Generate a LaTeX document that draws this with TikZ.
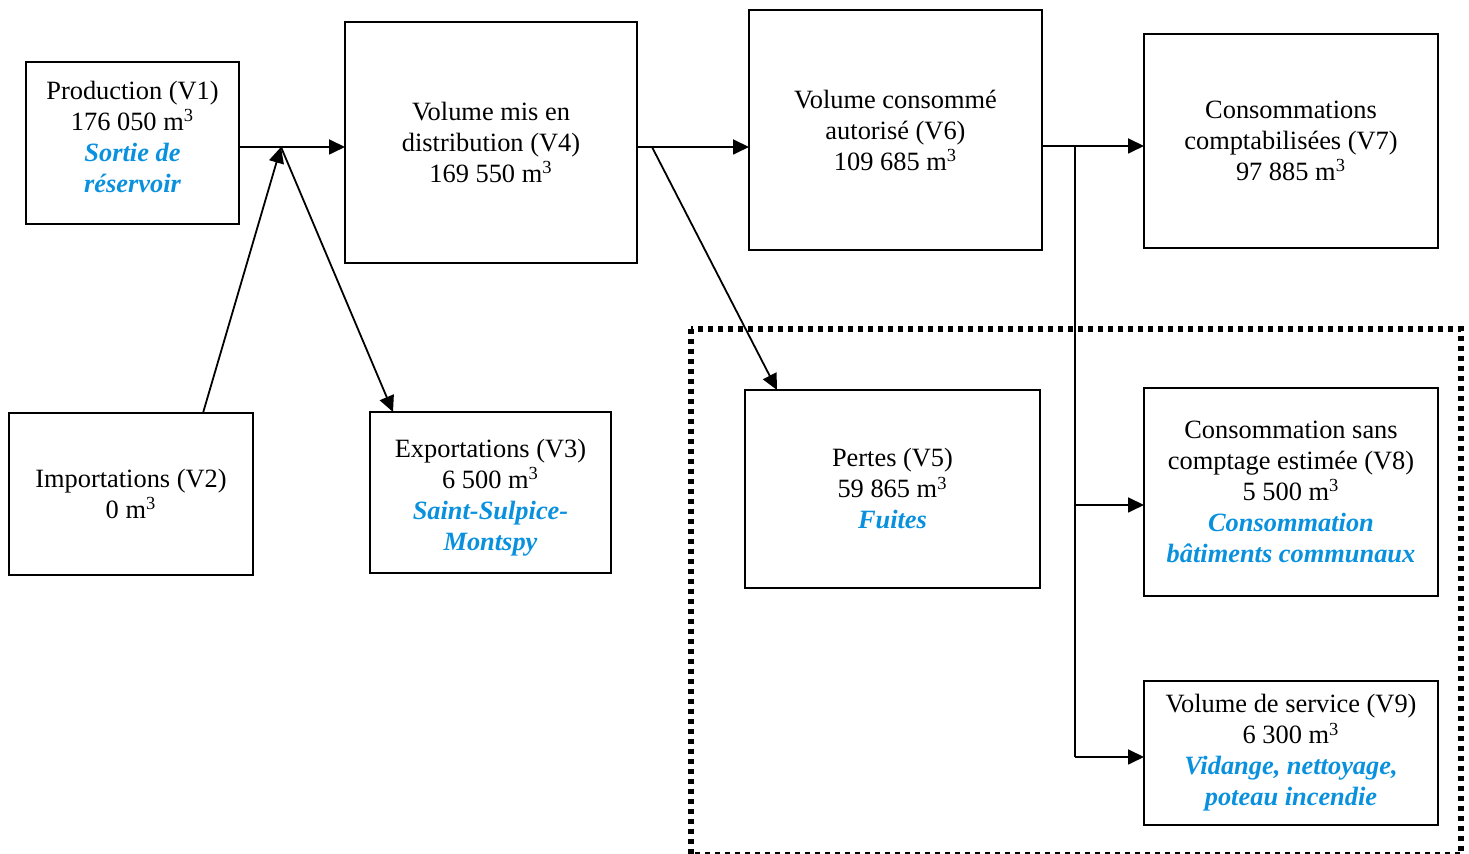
\documentclass[tikz,border=0pt]{standalone}
\usepackage{fontspec}
\setmainfont{Liberation Serif}
\usepackage{xcolor}
\usetikzlibrary{arrows.meta}
\definecolor{eaubleu}{RGB}{10,145,222}
\newcommand{\mcube}{m\textsuperscript{3}}
\newcommand{\remarque}[1]{{\color{eaubleu}\bfseries\itshape #1}}
\tikzset{box/.style={draw, line width=0.9pt, align=center, inner sep=0pt, outer sep=0pt,
   font=\fontsize{13.2}{15.5}\selectfont},
 flow/.style={draw, line width=0.9pt, -{Triangle[length=8pt,width=7.5pt]}},
 pipe/.style={draw, line width=0.9pt},
 lossframe/.style={draw, line width=2.6pt, dash pattern=on 2.6pt off 2.4pt},
 }

\begin{document}
\begin{tikzpicture}[x=0.5pt, y=-0.5pt]
    \useasboundingbox (0,0) rectangle (1469,854);
    % losses
    \draw[lossframe] (691,329) rectangle (1461,855);
    \node[box, minimum width=106.5pt, minimum height=81pt] (v1) at (132.5,143)
        {Production (V1)\\176 050 \mcube\\\remarque{Sortie de}\\\remarque{réservoir}\\[-9.5pt]\mbox{}};
    \node[box, minimum width=146pt, minimum height=120.5pt] (v4) at (491,142.5)
        {Volume mis en\\distribution (V4)\\169 550 \mcube};
    \node[box, minimum width=146.5pt, minimum height=120pt] (v6) at (895.5,130)
        {Volume consommé\\autorisé (V6)\\109 685 \mcube};
    \node[box, minimum width=147pt, minimum height=107pt] (v7) at (1291,141)
        {Consommations\\comptabilisées (V7)\\97 885 \mcube};
    \node[box, minimum width=122pt, minimum height=81pt] (v2) at (131,494)
        {Importations (V2)\\0 \mcube};
    \node[box, minimum width=120.5pt, minimum height=80.5pt] (v3) at (490.5,492.5)
        {\rule{0pt}{14pt}Exportations (V3)\\6 500 \mcube\\\remarque{Saint-Sulpice-}\\\remarque{Montspy}};
    \node[box, minimum width=147.5pt, minimum height=99pt] (v5) at (892.5,489)
        {Pertes (V5)\\59 865 \mcube\\\remarque{Fuites}};
    \node[box, minimum width=147pt, minimum height=104pt] (v8) at (1291,492)
        {Consommation sans\\comptage estimée (V8)\\5 500 \mcube\\\remarque{Consommation}\\\remarque{bâtiments communaux}};
    \node[box, minimum width=147pt, minimum height=72pt] (v9) at (1291,753)
        {Volume de service (V9)\\6 300 \mcube\\\remarque{Vidange, nettoyage,}\\\remarque{poteau incendie}};
    % junctions
    \coordinate (j1) at (281,147);
    \coordinate (j2) at (652,147);
    \coordinate (j3) at (1075,146);
    \coordinate (j4) at (1075,505);
    \coordinate (j5) at (1075,757);
    \draw[flow] (v1.east |- j1) -- (v4.west |- j1);
    \draw[flow] ([xshift=36pt]v2.north) -- (j1);
    \draw[flow] (j1) -- ([xshift=-48.75pt]v3.north);
    \draw[flow] (v4.east |- j2) -- (v6.west |- j2);
    \draw[flow] (j2) -- ([xshift=-57.75pt]v5.north);
    \draw[flow] (v6.east |- j3) -- (v7.west |- j3);
    \draw[pipe] (j3) -- (j5);
    \draw[flow] (j4) -- (v8.west |- j4);
    \draw[flow] (j5) -- (v9.west |- j5);
\end{tikzpicture}
\end{document}
